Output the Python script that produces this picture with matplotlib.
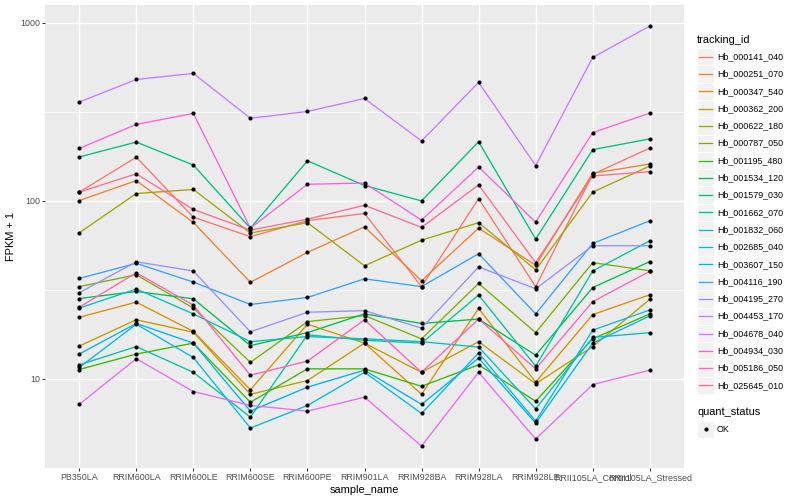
import matplotlib.pyplot as plt
from matplotlib.lines import Line2D
from matplotlib.patches import Rectangle
import numpy as np

plt.rcParams['font.family'] = ['Liberation Sans', 'DejaVu Sans']

samples = ['PB350LA', 'RRIM600LA', 'RRIM600LE', 'RRIM600SE', 'RRIM600PE', 'RRIM901LA',
           'RRIM928BA', 'RRIM928LA', 'RRIM928LE', 'RRII105LA_Control', 'RRII105LA_Stressed']

# FPKM + 1 per gene, one value per sample
hb_000141_040 = [112, 176, 81, 63, 77.5, 85, 33, 103, 33, 141, 198]
hb_000251_070 = [100.5, 130, 75.7, 34.9, 51.4, 71.5, 35.6, 70.3, 43.5, 143, 161]
hb_000347_540 = [22.2, 27, 18.5, 8.7, 20.3, 15.9, 8.2, 24.9, 9.6, 23.0, 29.7]
hb_000362_200 = [15.3, 21.5, 18.3, 8.2, 9.8, 15.9, 10.9, 16.2, 9.4, 15.2, 28.0]
hb_000622_180 = [66.2, 110, 116, 66, 75.5, 43.2, 60.2, 75.5, 41, 112, 157]
hb_000787_050 = [33, 38.5, 25, 12.4, 21, 22.7, 16.8, 34.4, 18.2, 45, 40.5]
hb_001195_480 = [11.3, 13.8, 15.9, 7.4, 11.4, 11.4, 9.1, 12.0, 7.5, 16.8, 23.2]
hb_001534_120 = [28.3, 31, 28.2, 15.4, 18.2, 23.2, 20.5, 21.7, 13.6, 32.6, 45.6]
hb_001579_030 = [176.5, 214, 159, 70.3, 168, 122, 100, 215, 61, 194, 223]
hb_001662_070 = [12, 15.2, 10.9, 6.1, 17.7, 16.5, 15.9, 29.6, 11.8, 40.4, 59.7]
hb_001832_060 = [25, 32, 23.2, 16.2, 17.3, 16.8, 16.2, 15.1, 6.8, 17.1, 18.2]
hb_002685_040 = [11.6, 20.3, 13.2, 5.3, 7.1, 10.9, 6.4, 14.0, 5.8, 18.8, 24.4]
hb_003607_150 = [13.8, 20.5, 15.9, 6.6, 9.0, 11.2, 7.2, 13.1, 5.65, 15.9, 22.6]
hb_004116_190 = [36.7, 44.6, 35, 26.2, 28.7, 36.5, 33, 50.5, 23.2, 57.7, 77.3]
hb_004195_270 = [30.5, 45.5, 40.4, 18.4, 23.7, 24.2, 19.3, 42.6, 32.1, 56, 56]
hb_004453_170 = [359, 481, 520, 291, 318, 376, 217, 463, 158, 639, 960]
hb_004678_040 = [7.2, 13, 8.5, 7.1, 6.6, 7.9, 4.2, 10.9, 4.6, 9.3, 11.2]
hb_004934_030 = [197, 269, 310, 70.3, 124, 126, 78, 155, 76, 242, 311]
hb_005186_050 = [25.3, 39.5, 26, 10.5, 12.6, 21.5, 10.9, 21.7, 11.4, 27.2, 40.2]
hb_025645_010 = [112, 142, 89.5, 68.5, 79, 94.5, 71, 123, 45, 138, 146]

tracking_ids = ['Hb_000141_040', 'Hb_000251_070', 'Hb_000347_540', 'Hb_000362_200',
                'Hb_000622_180', 'Hb_000787_050', 'Hb_001195_480', 'Hb_001534_120',
                'Hb_001579_030', 'Hb_001662_070', 'Hb_001832_060', 'Hb_002685_040',
                'Hb_003607_150', 'Hb_004116_190', 'Hb_004195_270', 'Hb_004453_170',
                'Hb_004678_040', 'Hb_004934_030', 'Hb_005186_050', 'Hb_025645_010']
series = [hb_000141_040, hb_000251_070, hb_000347_540, hb_000362_200, hb_000622_180,
          hb_000787_050, hb_001195_480, hb_001534_120, hb_001579_030, hb_001662_070,
          hb_001832_060, hb_002685_040, hb_003607_150, hb_004116_190, hb_004195_270,
          hb_004453_170, hb_004678_040, hb_004934_030, hb_005186_050, hb_025645_010]

# ggplot hue palette, 20 levels
colors = ['#F8766D', '#EA8331', '#D89000', '#C09B00', '#A3A500', '#7CAE00', '#39B600',
          '#00BB4E', '#00BF7D', '#00C1A3', '#00BFC4', '#00BAE0', '#00B0F6', '#35A2FF',
          '#9590FF', '#C77CFF', '#E76BF3', '#FA62DB', '#FF62BC', '#FF6C91']

W, H = 800, 500
fig = plt.figure(figsize=(8, 5), dpi=100)
ax = fig.add_axes([45 / W, 1 - 468 / H, (684 - 45) / W, (468 - 5) / H])
ax.set_facecolor('#EBEBEB')

x = np.arange(1, len(samples) + 1)
for vals, c in zip(series, colors):
    ax.plot(x, vals, color=c, lw=0.95, zorder=3)
for vals in series:
    ax.plot(x, vals, 'o', color='black', ms=3.0, mew=0, zorder=4)

ax.set_yscale('log')
allv = np.log10(np.concatenate([np.array(s, float) for s in series]))
lo, hi = allv.min(), allv.max()
pad = (hi - lo) * 0.05
ax.set_ylim(10 ** (lo - pad), 10 ** (hi + pad))
ax.set_xlim(0.4, len(samples) + 0.6)

ax.set_yticks([10, 100, 1000])
ax.set_yticklabels(['10', '100', '1000'])
ax.set_yticks([10 ** 0.5, 10 ** 1.5, 10 ** 2.5], minor=True)
ax.yaxis.set_minor_formatter(plt.NullFormatter())
ax.set_xticks(x)
ax.set_xticklabels(samples)

ax.grid(True, which='major', color='white', lw=1.0, zorder=1)
ax.grid(True, which='minor', axis='y', color='white', lw=0.5, zorder=1)
ax.set_axisbelow(True)
for s in ax.spines.values():
    s.set_visible(False)
ax.tick_params(which='major', length=2.0, width=0.75, color='#333333', labelsize=6.4,
               labelcolor='#4D4D4D', pad=1.6)
ax.tick_params(which='minor', length=0)

ax.set_xlabel('sample_name', fontsize=7.9, labelpad=2)
ax.set_ylabel('FPKM + 1', fontsize=7.9, labelpad=3)

# legend, drawn in figure pixel coords
def fx(px):
    return px / W

def fy(py):
    return 1 - py / H

fig.text(fx(697), fy(40), 'tracking_id', fontsize=7.9, va='center', ha='left')
step = 17.3
for i, (tid, c) in enumerate(zip(tracking_ids, colors)):
    cy = 56.7 + step * i
    fig.add_artist(Rectangle((fx(697), fy(cy + step / 2)), 17.3 / W, step / H,
                             transform=fig.transFigure, facecolor='#F2F2F2',
                             edgecolor='white', lw=0.8))
    fig.add_artist(Line2D([fx(699), fx(712)], [fy(cy), fy(cy)], transform=fig.transFigure,
                          color=c, lw=0.95))
    fig.text(fx(717), fy(cy), tid, fontsize=6.4, va='center', ha='left')

fig.text(fx(697), fy(411.7), 'quant_status', fontsize=7.9, va='center', ha='left')
fig.add_artist(Rectangle((fx(697), fy(429.3 + step / 2)), 17.3 / W, step / H,
                         transform=fig.transFigure, facecolor='#F2F2F2',
                         edgecolor='white', lw=0.8))
fig.add_artist(Line2D([fx(705.6)], [fy(429.3)], transform=fig.transFigure, marker='o',
                      color='black', ms=3.0, mew=0, ls='none'))
fig.text(fx(717), fy(429.3), 'OK', fontsize=6.4, va='center', ha='left')

fig.savefig('out.png', dpi=100)
